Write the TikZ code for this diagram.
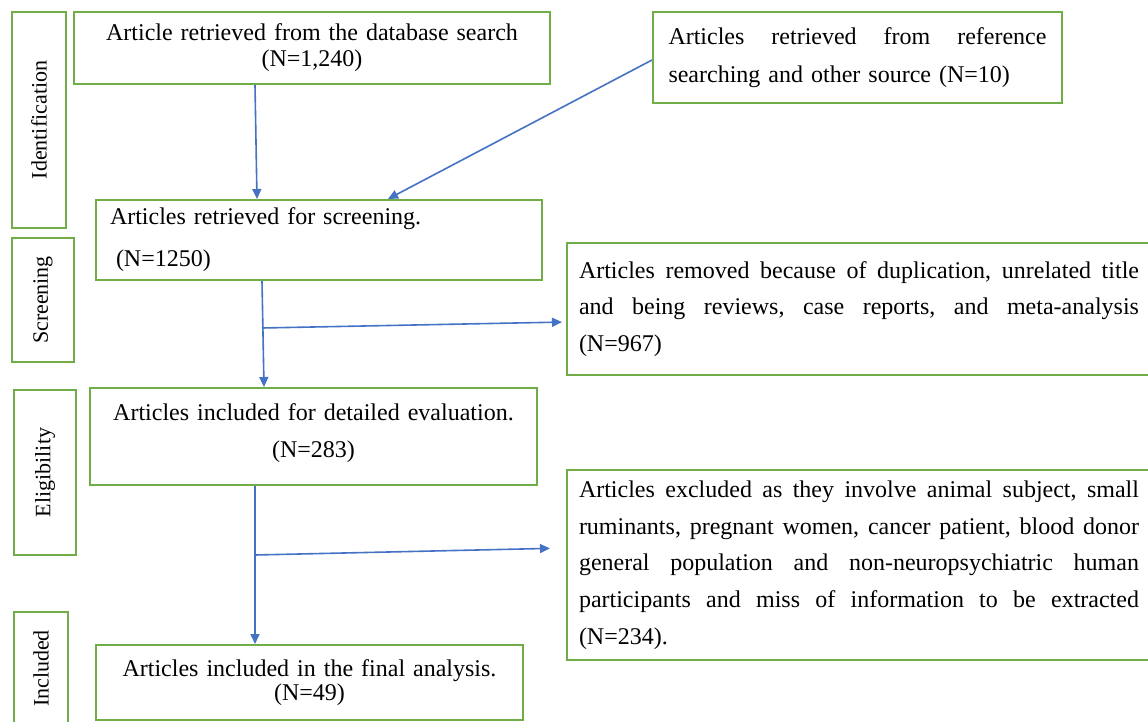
\documentclass[tikz,border=0pt]{standalone}
\usepackage{fontspec}
\setmainfont{Liberation Serif}
\usetikzlibrary{arrows.meta}
\definecolor{boxgreen}{HTML}{70AD47}
\definecolor{arrblue}{HTML}{4472C4}
\newcommand\jline[2]{\leavevmode\hbox to #1{#2}}
\begin{document}
\begin{tikzpicture}[x=0.5pt,y=-0.5pt,
  box/.style={draw=boxgreen, line width=1pt, rectangle, inner sep=0pt},
  side/.style={draw=boxgreen, line width=1pt, rectangle, inner sep=0pt, rotate=90, font=\fontsize{11pt}{13pt}\selectfont},
  arr/.style={draw=arrblue, line width=0.8pt, -{Triangle[length=5pt,width=4.5pt]}}
]
\useasboundingbox (0,0) rectangle (1148,722);
\clip (0,0) rectangle (1148,722);

% stage labels
\node[side, minimum width=108pt, minimum height=27pt] (s1) at (39,120) {Identification};
\node[side, minimum width=62pt, minimum height=31pt] (s2) at (43,300) {Screening};
\node[side, minimum width=82.5pt, minimum height=31pt] (s3) at (45,472.5) {Eligibility};
\node[side, minimum width=56.5pt, minimum height=27pt] (s4) at (41,668.5) {Included};

% boxes
\node[box, minimum width=238pt, minimum height=36pt, text width=230pt, align=center,
  font=\fontsize{12pt}{13pt}\selectfont] (b1) at (312,48)
  {Article retrieved from the database search\\(N=1,240)};

\node[box, minimum width=204.5pt, minimum height=45.5pt, text width=189pt, align=left,
  font=\fontsize{12pt}{19pt}\selectfont] (b2) at (857.5,57.5)
  {\jline{189pt}{Articles\hfill retrieved\hfill from\hfill reference}\\searching and other source (N=10)};

\node[box, minimum width=223pt, minimum height=40pt, text width=209pt, align=left,
  font=\fontsize{12pt}{21pt}\selectfont] (b3) at (319,240)
  {Articles retrieved for screening.\\\hspace*{3pt}(N=1250)};

\node[box, minimum width=292pt, minimum height=66pt, text width=280pt, align=left,
  font=\fontsize{12pt}{18.3pt}\selectfont] (b4) at (859,309)
  {\jline{280pt}{Articles\hfill removed\hfill because\hfill of\hfill duplication,\hfill unrelated\hfill title}\\
   \jline{280pt}{and\hfill being\hfill reviews,\hfill case\hfill reports,\hfill and\hfill meta-analysis}\\
   (N=967)};

\node[box, minimum width=223.5pt, minimum height=48.5pt, text width=215pt, align=center,
  font=\fontsize{12pt}{18.5pt}\selectfont] (b5) at (313.5,436.5)
  {Articles included for detailed evaluation.\\(N=283)\\[-13pt]\mbox{}};

\node[box, minimum width=292pt, minimum height=95pt, text width=280pt, align=left,
  font=\fontsize{12pt}{18.35pt}\selectfont] (b6) at (859,565)
  {\jline{280pt}{Articles\hfill excluded\hfill as\hfill they\hfill involve\hfill animal\hfill subject,\hfill small}\\
   \jline{280pt}{ruminants,\hfill pregnant\hfill women,\hfill cancer\hfill patient,\hfill blood\hfill donor}\\
   \jline{280pt}{general\hfill population\hfill and\hfill non-neuropsychiatric\hfill human}\\
   \jline{280pt}{participants\hfill and\hfill miss\hfill of\hfill information\hfill to\hfill be\hfill extracted}\\
   (N=234).};

\node[box, minimum width=213.5pt, minimum height=37.5pt, text width=205pt, align=center,
  font=\fontsize{12pt}{12pt}\selectfont] (b7) at (309.5,682.5)
  {Articles included in the final analysis.\\(N=49)};

% connectors
\coordinate (j1) at (262,328);
\coordinate (j2) at (255,555);
\draw[arr] (b1.south -| 255,0) -- (b3.north -| 257,0);
\draw[arr] (b2.west |- 0,60) -- (b3.north -| 388,0);
\draw[arr] (b3.south -| 262,0) -- (b5.north -| 264,0);
\draw[arr, shorten >=2pt] (j1) -- (b4.west |- 0,322);
\draw[arr] (b5.south -| 255,0) -- (b7.north -| 255,0);
\draw[arr, shorten >=8pt] (j2) -- (b6.west |- 0,548);
\end{tikzpicture}
\end{document}
